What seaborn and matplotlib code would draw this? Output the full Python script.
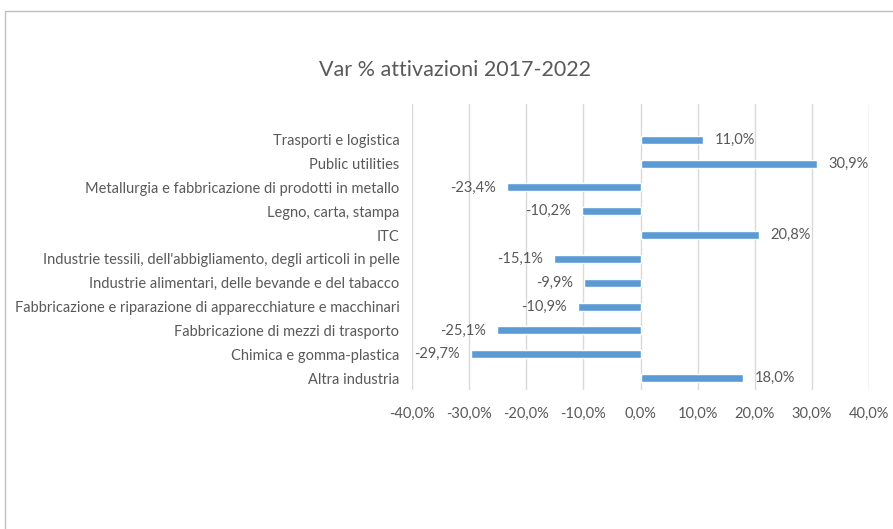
import matplotlib
matplotlib.use("Agg")
import matplotlib.pyplot as plt
import seaborn as sns
import pandas as pd
from matplotlib.patches import Rectangle

categories = [
    "Trasporti e logistica",
    "Public utilities",
    "Metallurgia e fabbricazione di prodotti in metallo",
    "Legno, carta, stampa",
    "ITC",
    "Industrie tessili, dell'abbigliamento, degli articoli in pelle",
    "Industrie alimentari, delle bevande e del tabacco",
    "Fabbricazione e riparazione di apparecchiature e macchinari",
    "Fabbricazione di mezzi di trasporto",
    "Chimica e gomma-plastica",
    "Altra industria",
]
values = [11.0, 30.9, -23.4, -10.2, 20.8, -15.1, -9.9, -10.9, -25.1, -29.7, 18.0]
x_ticks = [-40, -30, -20, -10, 0, 10, 20, 30, 40]

df = pd.DataFrame({"cat": categories, "val": values})

sns.set_theme(style="white")
plt.rcParams["font.family"] = ["Lato", "DejaVu Sans"]

text_color = "#595959"
grid_color = "#D9D9D9"
bar_color = "#5B9BD5"

fig = plt.figure(figsize=(8.93, 5.29), dpi=100)
ax = fig.add_axes([412 / 893, 1 - 390 / 529, (869 - 412) / 893, (390 - 104) / 529])

sns.barplot(data=df, x="val", y="cat", orient="h", color=bar_color,
            width=0.33, saturation=1, ax=ax, zorder=3)

ax.set_xlim(-40, 40)
ax.set_ylim(len(categories) - 0.5, -1.5)
ax.set_xticks(x_ticks)
ax.set_xticklabels([f"{t:.1f}%".replace(".", ",") for t in x_ticks],
                   fontsize=10.5, color=text_color)
ax.tick_params(axis="x", length=0, pad=12)
ax.tick_params(axis="y", length=0, pad=9)
for lbl in ax.get_yticklabels():
    lbl.set_fontsize(10.5)
    lbl.set_color(text_color)
ax.set_xlabel("")
ax.set_ylabel("")
for s in ax.spines.values():
    s.set_visible(False)
ax.xaxis.grid(True, color=grid_color, linewidth=1, zorder=0)
ax.yaxis.grid(False)
ax.set_axisbelow(True)

for i, v in enumerate(values):
    lab = f"{v:.1f}%".replace(".", ",")
    if v >= 0:
        ax.annotate(lab, (v, i), xytext=(8, 0), textcoords="offset points",
                    ha="left", va="center", fontsize=10.5, color=text_color)
    else:
        ax.annotate(lab, (v, i), xytext=(-8, 0), textcoords="offset points",
                    ha="right", va="center", fontsize=10.5, color=text_color)

fig.text(455 / 893, 1 - 70 / 529, "Var % attivazioni 2017-2022",
         ha="center", va="center", fontsize=15.5, color=text_color)

fig.patches.append(Rectangle((5 / 893, -0.05), 1.2, 1 - 11 / 529 + 0.05,
                             transform=fig.transFigure, fill=False,
                             edgecolor="#BFBFBF", linewidth=1))

fig.savefig("out.png", dpi=100)
